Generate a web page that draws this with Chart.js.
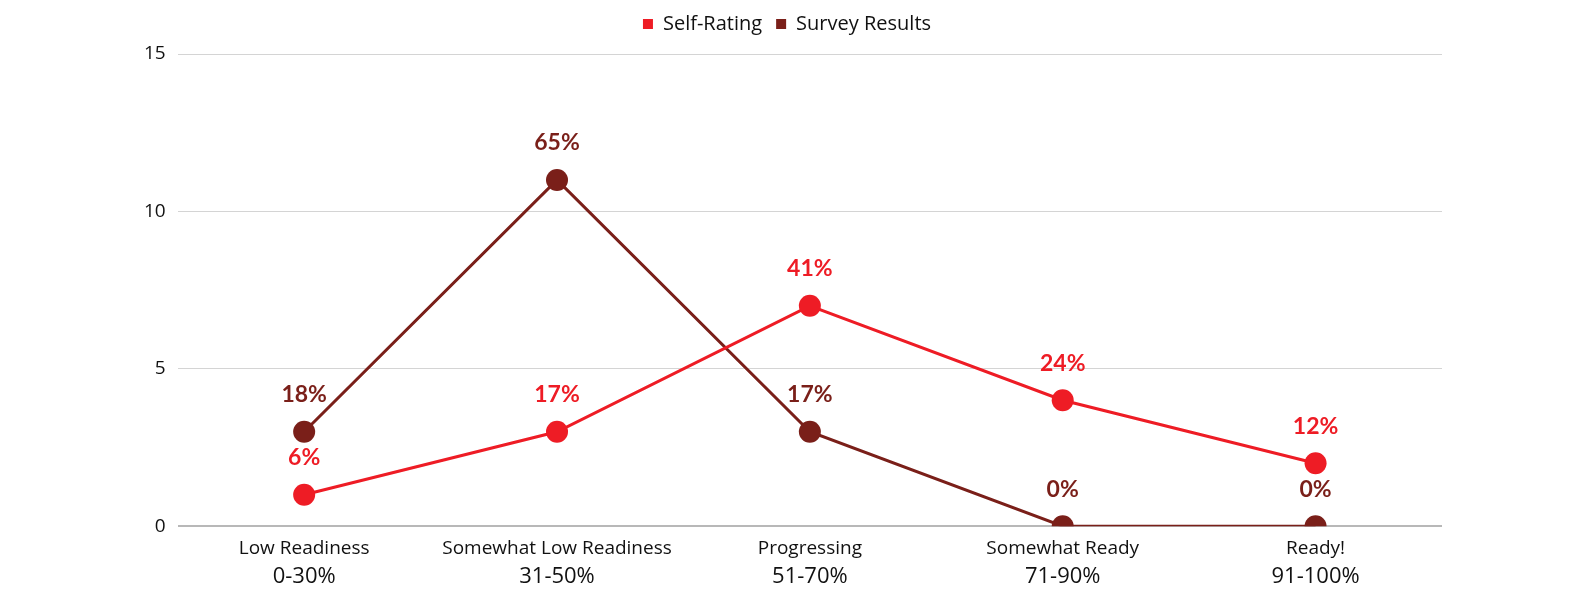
<!DOCTYPE html>
<html>
<head>
<meta charset="utf-8">
<script src="https://cdn.jsdelivr.net/npm/chart.js@4"></script>
<style>
  html, body { margin: 0; padding: 0; background: #ffffff; }
  #wrap { width: 1580px; height: 606px; }
</style>
</head>
<body>
<div id="wrap"><canvas id="readiness-chart" width="1580" height="606"></canvas></div>
<script>
// ───────────────────────── DATA ─────────────────────────
const categories   = ["Low Readiness", "Somewhat Low Readiness", "Progressing", "Somewhat Ready", "Ready!"];
const rangeLabels  = ["0-30%", "31-50%", "51-70%", "71-90%", "91-100%"];
const selfRating   = [1, 3, 7, 4, 2];
const surveyResult = [3, 11, 3, 0, 0];
const selfPct      = ["6%", "17%", "41%", "24%", "12%"];
const surveyPct    = ["18%", "65%", "17%", "0%", "0%"];
const yTicks       = [0, 5, 10, 15];

const RED  = "#ee1c25";
const DARK = "#7a1f19";

// ───────────────────────── PLUGINS ─────────────────────────
// extra room under the legend
const legendGap = {
    id: "legendGap",
    beforeInit(chart) {
        const origFit = chart.legend.fit;
        chart.legend.fit = function () {
            origFit.bind(chart.legend)();
            this.height += 10;
        };
    }
};

// value labels above each point
const pointLabels = {
    id: "pointLabels",
    afterDatasetsDraw(chart) {
        const ctx = chart.ctx;
        ctx.save();
        ctx.font = "bold 23px Lato";
        ctx.textAlign = "center";
        ctx.textBaseline = "middle";
        chart.data.datasets.forEach((ds, i) => {
            const meta = chart.getDatasetMeta(i);
            meta.data.forEach((pt, j) => {
                ctx.fillStyle = ds.borderColor;
                ctx.fillText(ds.pctLabels[j], pt.x, pt.y - 37);
            });
        });
        ctx.restore();
    }
};

// second line of x labels (larger range text)
const rangeLine = {
    id: "rangeLine",
    afterDraw(chart) {
        const ctx = chart.ctx;
        const xScale = chart.scales.x;
        ctx.save();
        ctx.font = "22px 'Open Sans'";
        ctx.fillStyle = "#111111";
        ctx.textAlign = "center";
        ctx.textBaseline = "middle";
        rangeLabels.forEach((r, i) => {
            ctx.fillText(r, xScale.getPixelForTick(i), chart.chartArea.bottom + 51);
        });
        ctx.restore();
    }
};

// ───────────────────────── CHART ─────────────────────────
const ctx = document.getElementById("readiness-chart").getContext("2d");
new Chart(ctx, {
    type: "line",
    data: {
        labels: categories,
        datasets: [
            {
                label: "Self-Rating",
                data: selfRating,
                pctLabels: selfPct,
                borderColor: RED,
                backgroundColor: RED,
                borderWidth: 3,
                pointRadius: 11,
                pointHoverRadius: 11,
                pointBackgroundColor: RED,
                pointBorderWidth: 0,
                tension: 0
            },
            {
                label: "Survey Results",
                data: surveyResult,
                pctLabels: surveyPct,
                borderColor: DARK,
                backgroundColor: DARK,
                borderWidth: 3,
                pointRadius: 11,
                pointHoverRadius: 11,
                pointBackgroundColor: DARK,
                pointBorderWidth: 0,
                tension: 0
            }
        ]
    },
    options: {
        responsive: false,
        animation: false,
        layout: { padding: { left: 132, right: 138, top: 0, bottom: 35 } },
        scales: {
            x: {
                offset: true,
                grid: { display: false, drawTicks: false },
                border: { display: false },
                ticks: {
                    color: "#111111",
                    font: { family: "'Open Sans'", size: 19 },
                    padding: 11
                }
            },
            y: {
                min: 0,
                max: 15,
                afterBuildTicks: (axis) => { axis.ticks = yTicks.map(v => ({ value: v })); },
                grid: {
                    drawTicks: false,
                    color: (c) => c.tick && c.tick.value === 0 ? "#b8b8b8" : "#d4d4d4",
                    lineWidth: (c) => c.tick && c.tick.value === 0 ? 2 : 1
                },
                border: { display: false },
                ticks: {
                    color: "#111111",
                    font: { family: "'Open Sans'", size: 19 },
                    padding: 12
                }
            }
        },
        plugins: {
            legend: {
                position: "top",
                labels: {
                    color: "#111111",
                    font: { family: "'Open Sans'", size: 20 },
                    usePointStyle: true,
                    pointStyle: "rect",
                    boxWidth: 10,
                    boxHeight: 10,
                    padding: 14
                }
            },
            tooltip: { enabled: false }
        }
    },
    plugins: [legendGap, pointLabels, rangeLine]
});
</script>
</body>
</html>
